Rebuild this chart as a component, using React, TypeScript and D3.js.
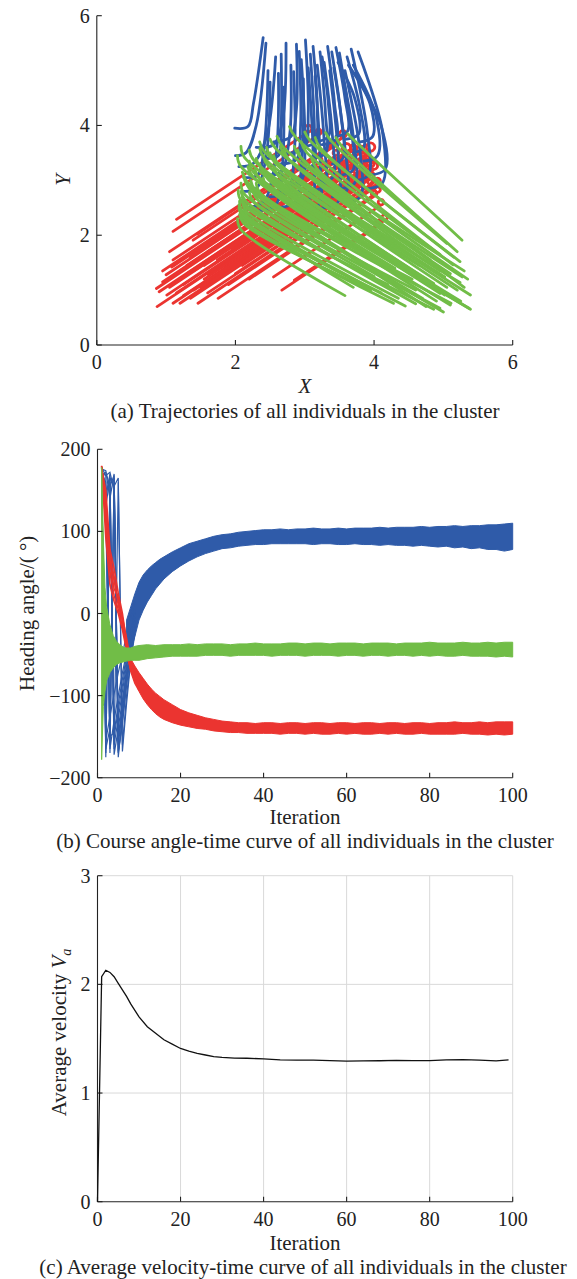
import React from "react";
import * as d3 from "d3";

type Pt = [number, number];

const FONT = "'Liberation Serif', 'Times New Roman', Times, serif";
const BLUE = "#2f5ba9";
const RED = "#eb3430";
const GREEN = "#71bd47";
const INK = "#222";

// ---------- (a) trajectories in the X–Y plane ----------
const posTicks = [0, 2, 4, 6];

// blue individuals: start, turn, climb, end
const blueTracks: Pt[][] = [
  [[1.99, 3.95], [2.18, 3.98], [2.26, 4.4], [2.40, 5.60]],
  [[2.00, 3.45], [2.15, 3.50], [2.30, 4.0], [2.44, 5.50]],
  [[2.05, 3.25], [2.25, 3.30], [2.45, 3.8], [2.58, 5.25]],
  [[2.10, 2.80], [2.30, 2.85], [2.45, 3.5], [2.50, 4.79]],
  [[2.15, 2.50], [2.40, 2.60], [2.58, 3.4], [2.62, 4.95]],
  [[2.30, 3.60], [2.55, 3.65], [2.68, 4.1], [2.73, 5.50]],
  [[2.40, 3.10], [2.65, 3.15], [2.78, 3.8], [2.80, 5.10]],
  [[2.55, 3.70], [2.80, 3.80], [2.88, 4.3], [2.88, 5.48]],
  [[2.50, 2.70], [2.75, 2.80], [2.85, 3.5], [2.84, 4.98]],
  [[2.80, 3.50], [3.00, 3.60], [3.05, 4.2], [3.01, 5.56]],
  [[2.70, 2.90], [2.95, 3.00], [3.00, 3.7], [2.95, 5.20]],
  [[2.95, 3.60], [3.15, 3.70], [3.18, 4.3], [3.12, 5.44]],
  [[2.85, 2.60], [3.10, 2.70], [3.12, 3.5], [3.05, 5.05]],
  [[3.10, 3.40], [3.30, 3.50], [3.30, 4.2], [3.22, 5.34]],
  [[3.05, 2.80], [3.28, 2.90], [3.28, 3.7], [3.18, 5.10]],
  [[3.25, 3.65], [3.45, 3.75], [3.43, 4.4], [3.33, 5.44]],
  [[3.20, 2.95], [3.40, 3.05], [3.40, 3.8], [3.28, 5.15]],
  [[3.40, 3.30], [3.55, 3.40], [3.52, 4.2], [3.39, 5.34]],
  [[3.45, 3.80], [3.62, 3.90], [3.58, 4.5], [3.45, 5.42]],
  [[3.55, 3.10], [3.70, 3.20], [3.66, 4.0], [3.50, 5.32]],
  [[3.40, 2.70], [3.60, 2.80], [3.58, 3.6], [3.42, 5.05]],
  [[3.70, 3.50], [3.85, 3.60], [3.80, 4.3], [3.61, 5.25]],
  [[3.75, 3.00], [3.92, 3.10], [3.90, 3.9], [3.67, 5.39]],
  [[3.60, 2.60], [3.80, 2.70], [3.80, 3.5], [3.58, 5.00]],
  [[3.90, 2.85], [4.12, 2.95], [4.12, 3.9], [3.77, 5.34]],
  [[3.85, 3.35], [4.05, 3.45], [4.02, 4.2], [3.70, 5.10]],
  [[2.12, 3.05], [2.32, 3.10], [2.42, 3.7], [2.47, 5.00]],
  [[2.45, 3.40], [2.62, 3.45], [2.66, 4.0], [2.66, 5.30]],
  [[2.35, 2.45], [2.58, 2.55], [2.68, 3.3], [2.70, 4.70]],
  [[2.65, 3.30], [2.88, 3.38], [2.94, 4.0], [2.92, 5.35]],
  [[2.60, 2.50], [2.85, 2.60], [2.96, 3.4], [2.98, 4.85]],
  [[2.90, 3.20], [3.12, 3.28], [3.14, 3.9], [3.08, 5.30]],
  [[2.98, 2.45], [3.20, 2.55], [3.22, 3.4], [3.15, 4.90]],
  [[3.15, 3.70], [3.34, 3.80], [3.34, 4.4], [3.25, 5.25]],
  [[3.25, 2.50], [3.48, 2.60], [3.48, 3.5], [3.36, 5.00]],
  [[3.60, 3.75], [3.78, 3.85], [3.72, 4.5], [3.48, 5.15]],
  [[3.50, 2.85], [3.72, 2.95], [3.70, 3.8], [3.55, 4.90]],
  [[3.80, 3.70], [3.98, 3.80], [3.94, 4.4], [3.63, 5.10]],
  [[3.95, 3.10], [4.16, 3.20], [4.10, 4.0], [3.72, 4.95]],
];

// red individuals: looping start, straight run to the lower left
const redStarts: Pt[] = [
  [3.05, 3.88], [3.20, 3.83], [3.40, 3.60], [3.55, 3.78], [3.60, 3.52],
  [3.70, 3.55], [3.80, 3.50], [3.75, 3.12], [3.95, 3.53], [3.90, 3.34],
  [4.00, 3.20], [3.85, 2.98], [4.05, 2.94], [3.95, 3.24], [4.10, 2.55],
  [4.07, 2.18], [4.15, 2.27], [3.50, 3.03], [3.30, 2.98], [3.40, 2.90],
  [3.65, 2.96], [3.45, 2.75], [3.25, 2.85], [3.15, 3.12], [3.00, 3.05],
  [3.80, 2.88], [3.55, 3.17], [3.95, 2.92], [3.70, 2.83], [2.95, 3.30],
  [3.65, 3.42], [3.85, 3.40], [3.90, 3.26], [3.85, 3.08], [3.95, 3.03],
  [3.80, 3.02], [3.80, 2.98], [3.50, 3.30], [3.55, 3.32], [3.60, 3.20],
  [3.65, 3.21], [3.85, 3.00], [3.80, 2.93], [4.05, 2.78], [4.00, 2.86],
  [3.80, 2.81], [4.00, 2.71], [3.20, 3.31], [3.45, 3.45], [3.40, 3.21],
];
const redEnds: Pt[] = [
  [1.15, 2.29], [1.10, 2.07], [1.39, 1.91], [1.45, 2.02], [1.08, 1.42],
  [1.00, 1.28], [0.86, 1.03], [0.87, 0.70], [0.90, 0.97], [1.01, 0.91],
  [1.10, 0.76], [1.20, 0.76], [1.46, 0.76], [1.61, 1.28], [2.55, 1.24],
  [2.67, 1.00], [2.85, 1.18], [1.74, 1.55], [1.30, 1.30], [1.25, 1.10],
  [1.55, 1.20], [1.85, 1.40], [1.95, 1.75], [1.35, 1.60], [1.70, 1.95],
  [2.10, 1.45], [1.20, 1.20], [1.60, 0.95], [2.35, 1.70], [1.05, 1.70],
  [0.95, 1.15], [1.05, 1.05], [1.15, 0.95], [1.25, 0.90], [1.35, 0.85],
  [1.40, 1.00], [1.50, 1.05], [1.30, 1.45], [1.20, 1.35], [1.40, 1.35],
  [1.55, 1.45], [1.65, 1.15], [1.80, 1.25], [1.75, 0.85], [1.90, 1.10],
  [2.00, 1.30], [2.20, 1.20], [1.10, 1.55], [0.95, 1.35], [1.60, 1.70],
];
const redLoops: number[] = [
  0.05, 0.04, 0.05, 0.05, 0.06, 0.04, 0.05, 0.05, 0.06, 0.04,
  0.05, 0.05, 0.04, 0.05, 0.04, 0.04, 0.04, 0.05, 0.04, 0.05,
  0.04, 0.04, 0.04, 0.05, 0.04, 0.05, 0.05, 0.04, 0.04, 0.04,
  0.05, 0.04, 0.05, 0.04, 0.05, 0.04, 0.05, 0.04, 0.05, 0.04,
  0.05, 0.04, 0.05, 0.04, 0.05, 0.04, 0.04, 0.05, 0.04, 0.05,
];

// green individuals: hooked start, bend, end
const greenTracks: Pt[][] = [
  [[3.62, 3.85], [3.72, 3.72], [5.27, 1.91]],
  [[3.30, 3.87], [3.38, 3.72], [5.05, 1.85]],
  [[3.00, 3.88], [3.08, 3.72], [5.24, 1.52]],
  [[2.78, 3.98], [2.86, 3.80], [5.14, 1.46]],
  [[2.60, 3.80], [2.68, 3.62], [4.81, 1.55]],
  [[2.50, 3.75], [2.58, 3.58], [5.27, 1.24]],
  [[2.35, 3.70], [2.42, 3.52], [5.02, 1.24]],
  [[2.45, 3.60], [2.52, 3.42], [5.24, 1.14]],
  [[2.20, 3.55], [2.27, 3.36], [4.86, 1.12]],
  [[2.55, 3.45], [2.62, 3.28], [5.39, 0.91]],
  [[2.08, 3.62], [2.13, 3.42], [4.95, 0.94]],
  [[2.30, 3.40], [2.37, 3.22], [5.02, 0.91]],
  [[2.40, 3.20], [2.47, 3.02], [5.39, 0.65]],
  [[2.20, 3.35], [2.26, 3.15], [5.37, 0.67]],
  [[2.03, 3.45], [2.08, 3.25], [5.10, 0.73]],
  [[2.12, 3.10], [2.18, 2.90], [5.11, 0.76]],
  [[2.08, 2.95], [2.13, 2.75], [4.95, 0.67]],
  [[2.04, 2.82], [2.09, 2.62], [4.86, 0.65]],
  [[2.06, 2.62], [2.11, 2.42], [4.45, 0.71]],
  [[2.08, 2.45], [2.13, 2.26], [4.28, 0.76]],
  [[2.03, 2.30], [2.08, 2.10], [3.58, 0.90]],
  [[2.12, 2.52], [2.18, 2.33], [3.80, 1.12]],
  [[2.25, 2.85], [2.31, 2.66], [4.60, 1.00]],
  [[2.10, 2.70], [2.16, 2.51], [4.20, 1.10]],
  [[3.45, 3.78], [3.53, 3.63], [5.20, 1.70]],
  [[2.70, 3.55], [2.77, 3.38], [4.95, 1.35]],
  [[2.30, 2.95], [2.36, 2.76], [4.70, 0.85]],
  [[2.85, 3.62], [2.92, 3.45], [5.30, 1.05]],
  [[2.40, 3.05], [2.46, 2.87], [4.40, 1.25]],
  [[2.55, 3.25], [2.62, 3.08], [4.75, 1.20]],
  [[3.15, 3.78], [3.22, 3.60], [5.15, 1.60]],
  [[2.95, 3.70], [3.02, 3.52], [4.95, 1.65]],
  [[2.90, 3.55], [2.97, 3.37], [5.30, 1.35]],
  [[2.65, 3.62], [2.72, 3.44], [5.10, 1.30]],
  [[2.50, 3.50], [2.57, 3.32], [5.20, 1.00]],
  [[2.35, 3.58], [2.42, 3.40], [5.05, 1.05]],
  [[2.18, 3.25], [2.25, 3.07], [4.90, 0.80]],
  [[2.10, 3.15], [2.17, 2.97], [4.75, 0.70]],
  [[2.35, 3.30], [2.42, 3.12], [5.25, 0.80]],
  [[2.15, 3.00], [2.22, 2.82], [5.00, 0.60]],
  [[2.08, 2.80], [2.15, 2.62], [4.60, 0.75]],
  [[2.10, 2.60], [2.17, 2.42], [4.35, 0.85]],
  [[2.05, 2.50], [2.12, 2.32], [4.10, 0.95]],
  [[2.06, 2.38], [2.13, 2.20], [3.95, 1.00]],
  [[2.22, 3.00], [2.29, 2.82], [4.55, 1.20]],
  [[2.28, 3.20], [2.35, 3.02], [4.30, 1.40]],
  [[2.40, 3.45], [2.47, 3.27], [4.65, 1.45]],
  [[3.10, 3.40], [3.17, 3.22], [5.35, 1.20]],
  [[2.05, 2.55], [2.12, 2.37], [3.70, 1.05]],
  [[2.20, 2.78], [2.27, 2.60], [4.00, 1.25]],
];

// ---------- (b) heading angle per iteration ----------
const iterTicks = [0, 20, 40, 60, 80, 100];
const angleTicks = [-200, -100, 0, 100, 200];

const bandIter = [
  7, 8, 9, 10, 11, 12, 13, 14, 15, 16,
  18, 20, 22, 24, 26, 28, 30, 32, 34, 36, 38, 40, 42, 44, 46, 48, 50,
  52, 54, 56, 58, 60, 62, 64, 66, 68, 70, 72, 74, 76, 78, 80, 82, 84,
  86, 88, 90, 92, 94, 96, 98, 100,
];
const blueUpper = [
  -8, 8, 24, 38, 47, 53, 58, 62, 66, 69,
  75, 80, 85, 88, 91, 94, 96, 97, 99, 100, 101, 102, 102, 103, 102, 103, 103,
  104, 103, 103, 104, 103, 104, 104, 104, 105, 104, 105, 105, 105, 106, 105, 106, 106,
  107, 106, 107, 107, 108, 108, 109, 110,
];
const blueLower = [
  -52, -46, -28, -8, 4, 14, 22, 30, 36, 42,
  51, 58, 64, 69, 73, 76, 79, 80, 82, 83, 84, 84, 85, 85, 85, 85, 85,
  84, 85, 85, 84, 84, 85, 84, 84, 83, 84, 83, 83, 82, 83, 82, 81, 82,
  80, 81, 79, 80, 78, 78, 76, 78,
];
const redUpper = [
  -45, -55, -64, -72, -79, -86, -92, -97, -101, -105,
  -111, -117, -121, -124, -127, -129, -131, -132, -133, -133, -134, -133, -133, -134, -133, -133, -134,
  -133, -133, -134, -133, -133, -134, -133, -133, -134, -133, -133, -134, -133, -133, -134, -133, -133,
  -132, -133, -133, -132, -133, -132, -132, -132,
];
const redLower = [
  -52, -68, -82, -95, -104, -111, -117, -122, -126, -129,
  -133, -136, -138, -140, -141, -143, -144, -145, -145, -146, -146, -146, -146, -147, -146, -146, -147,
  -146, -147, -147, -146, -147, -146, -147, -147, -146, -147, -146, -147, -147, -146, -147, -147, -147,
  -147, -146, -147, -147, -148, -147, -148, -147,
];

const greenIter = [
  1, 1.4, 1.8, 2.2, 3, 3.8, 4.6, 5.4, 6.2, 7, 8, 9, 10,
  12, 14, 16, 18, 20, 22, 24, 26, 28, 30, 32, 34, 36, 38, 40, 42, 44,
  46, 48, 50, 52, 54, 56, 58, 60, 62, 64, 66, 68, 70, 72, 74, 76, 78,
  80, 82, 84, 86, 88, 90, 92, 94, 96, 98, 100,
];
const greenUpper = [
  178, 90, 32, 8, -14, -27, -34, -38, -41, -42, -42, -40, -39,
  -38, -39, -38, -38, -38, -37, -38, -37, -37, -37, -38, -37, -37, -36, -37, -37, -37,
  -36, -36, -37, -36, -36, -37, -36, -36, -36, -37, -36, -36, -36, -37, -36, -36, -36,
  -35, -36, -36, -36, -35, -36, -36, -35, -36, -35, -35,
];
const greenLower = [
  -178, -113, -95, -82, -72, -66, -62, -60, -59, -58, -57, -57, -57,
  -55, -54, -53, -52, -52, -52, -52, -51, -51, -51, -52, -51, -51, -51, -51, -52, -51,
  -51, -51, -52, -51, -51, -51, -52, -51, -51, -52, -51, -51, -52, -51, -51, -52, -51,
  -52, -51, -52, -52, -51, -52, -52, -52, -53, -52, -53,
];

// individual headings during the first iterations (wrap-around at ±180°)
const blueEarlyIter = [1, 2, 3, 4, 5, 6, 7, 8, 9];
const blueEarly: number[][] = [
  [178, 168, -165, -130, -100, -72, -48, -22, 2],
  [172, 150, 160, -172, -140, -105, -72, -42, -15],
  [176, 174, 140, 170, -160, -118, -78, -46, -22],
  [165, -155, -125, -98, -72, -50, -25, -5, 15],
  [178, 130, 165, 155, 165, -168, -110, -58, -25],
  [170, 160, -170, 150, -175, -125, -80, -45, -18],
  [175, -170, 140, -160, -128, -95, -62, -30, -5],
  [168, 172, 155, 168, -150, -110, -66, -36, -10],
  [174, 120, -150, -145, -110, -80, -52, -24, 5],
  [160, 140, 170, -165, 160, -160, -100, -55, -20],
  [178, -175, 165, -150, -118, -88, -56, -26, 0],
  [171, 168, 172, 150, -168, -135, -88, -48, -16],
  [177, 155, -160, 165, -155, -115, -75, -40, -8],
  [169, -165, -140, 162, -170, -130, -85, -50, -20],
];
const redEarlyIter = [1, 2, 3, 4, 5, 6, 7, 8, 9, 10];
const redEarly: number[][] = [
  [179, 130, 72, 40, 15, -5, -30, -58, -72, -82],
  [178, 110, 50, 22, 5, -15, -40, -65, -80, -90],
  [176, 150, 78, 55, 25, 0, -35, -60, -76, -86],
  [180, 92, 35, 15, 0, -20, -45, -70, -85, -94],
  [177, 140, 62, 30, 20, -10, -42, -68, -82, -92],
  [179, 120, 66, 45, 10, -8, -38, -62, -78, -88],
];

// ---------- (c) average velocity ----------
const velTicks = [0, 1, 2, 3];
const velIter = [
  0, 1, 2, 3, 4, 5, 6, 7, 8, 9, 10, 12, 14, 16, 18, 20, 22, 24, 26, 28, 30,
  33, 36, 40, 44, 48, 52, 56, 60, 64, 68, 72, 76, 80, 84, 88, 92, 96, 99,
];
const velValue = [
  0, 2.07, 2.13, 2.11, 2.07, 2.01, 1.95, 1.89, 1.82, 1.76, 1.70, 1.61, 1.55,
  1.49, 1.45, 1.41, 1.385, 1.365, 1.35, 1.335, 1.328, 1.322, 1.32, 1.315,
  1.305, 1.303, 1.302, 1.298, 1.294, 1.296, 1.297, 1.3, 1.298, 1.299, 1.305,
  1.308, 1.302, 1.296, 1.306,
];

const fmt = (v: number) => (v < 0 ? "\u2212" + Math.abs(v) : String(v));

type AxesProps = {
  x: d3.ScaleLinear<number, number>;
  y: d3.ScaleLinear<number, number>;
  xTicks: number[];
  yTicks: number[];
  grid?: boolean;
};

function Axes({ x, y, xTicks, yTicks, grid }: AxesProps) {
  const [x0, x1] = x.range();
  const [y0, y1] = y.range();
  const tick = 5;
  return (
    <g fontFamily={FONT} fontSize={20} fill={INK}>
      {grid &&
        xTicks.filter((t) => t !== xTicks[0]).map((t) => (
          <line key={"gx" + t} x1={x(t)} x2={x(t)} y1={y0} y2={y1} stroke="#d9d9d9" strokeWidth={1} />
        ))}
      {grid &&
        yTicks.filter((t) => t !== yTicks[0]).map((t) => (
          <line key={"gy" + t} x1={x0} x2={x1} y1={y(t)} y2={y(t)} stroke="#d9d9d9" strokeWidth={1} />
        ))}
      <line x1={x0} x2={x1} y1={y0} y2={y0} stroke={INK} strokeWidth={1.1} />
      <line x1={x0} x2={x0} y1={y0} y2={y1} stroke={INK} strokeWidth={1.1} />
      {xTicks.map((t) => (
        <g key={"x" + t}>
          <line x1={x(t)} x2={x(t)} y1={y0} y2={y0 - tick} stroke={INK} strokeWidth={1.1} />
          <text x={x(t)} y={y0 + 24} textAnchor="middle">{fmt(t)}</text>
        </g>
      ))}
      {yTicks.map((t) => (
        <g key={"y" + t}>
          <line x1={x0} x2={x0 + tick} y1={y(t)} y2={y(t)} stroke={INK} strokeWidth={1.1} />
          <text x={x0 - 7} y={y(t)} dy="0.35em" textAnchor="end">{fmt(t)}</text>
        </g>
      ))}
    </g>
  );
}

export default function App() {
  const W = 577;
  const H = 1279;

  // (a)
  const xa = d3.scaleLinear().domain([0, 6]).range([96.8, 512.7]);
  const ya = d3.scaleLinear().domain([0, 6]).range([345, 15.7]);
  const track = d3
    .line<Pt>()
    .x((d) => xa(d[0]))
    .y((d) => ya(d[1]))
    .curve(d3.curveCatmullRom.alpha(0.5));
  const redPath = (s: Pt, e: Pt, r: number) => {
    const p = d3.path();
    const sx = xa(s[0]);
    const sy = ya(s[1]);
    const rp = xa(r) - xa(0);
    p.moveTo(sx, sy);
    p.arc(sx, sy - rp, rp, Math.PI / 2, Math.PI / 2 + 2 * Math.PI - 0.001, false);
    p.lineTo(xa(e[0]), ya(e[1]));
    return p.toString();
  };

  // (b)
  const xb = d3.scaleLinear().domain([0, 100]).range([97.5, 512.7]);
  const yb = d3.scaleLinear().domain([-200, 200]).range([777.7, 449.3]);
  const band = (iters: number[], lo: number[], hi: number[]) =>
    d3
      .area<number>()
      .x((_, i) => xb(iters[i]))
      .y0((_, i) => yb(lo[i]))
      .y1((_, i) => yb(hi[i]))(iters) || "";
  const early = (iters: number[], vals: number[]) =>
    d3
      .line<number>()
      .x((_, i) => xb(iters[i]))
      .y((d) => yb(d))(vals) || "";

  // (c)
  const yc = d3.scaleLinear().domain([0, 3]).range([1201.7, 875.7]);
  const velLine =
    d3
      .line<number>()
      .x((_, i) => xb(velIter[i]))
      .y((d) => yc(d))(velValue) || "";

  const cap = { fontFamily: FONT, fontSize: 21, fill: INK } as const;

  return (
    <svg
      width={W}
      height={H}
      viewBox={`0 0 ${W} ${H}`}
      style={{ position: "absolute", left: 0, top: 0, background: "#fff" }}
    >
      <rect x={0} y={0} width={W} height={H} fill="#fff" />

      {/* (a) trajectories */}
      <g fill="none" strokeWidth={2.8} strokeLinecap="round" strokeLinejoin="round">
        {redStarts.map((s, i) => (
          <path key={"r" + i} d={redPath(s, redEnds[i], redLoops[i])} stroke={RED} />
        ))}
        {blueTracks.map((t, i) => (
          <path key={"b" + i} d={track(t) || ""} stroke={BLUE} />
        ))}
        {greenTracks.map((t, i) => (
          <path key={"g" + i} d={track(t) || ""} stroke={GREEN} />
        ))}
      </g>
      <Axes x={xa} y={ya} xTicks={posTicks} yTicks={posTicks} />
      <text {...cap} x={305} y={393} textAnchor="middle" fontStyle="italic">X</text>
      <text {...cap} transform="translate(62.6,180) rotate(-90)" textAnchor="middle" dy="0.35em" fontStyle="italic">Y</text>
      <text {...cap} x={305} y={418} textAnchor="middle">(a) Trajectories of all individuals in the cluster</text>

      {/* (b) heading angles */}
      <g>
        <path d={band(bandIter, blueLower, blueUpper)} fill={BLUE} stroke={BLUE} strokeWidth={1} />
        {blueEarly.map((v, i) => (
          <path key={"be" + i} d={early(blueEarlyIter, v)} fill="none" stroke={BLUE} strokeWidth={1.2} />
        ))}
        <path d={band(bandIter, redLower, redUpper)} fill={RED} stroke={RED} strokeWidth={1} />
        {redEarly.map((v, i) => (
          <path key={"re" + i} d={early(redEarlyIter, v)} fill="none" stroke={RED} strokeWidth={1.6} />
        ))}
        <path d={band(greenIter, greenLower, greenUpper)} fill={GREEN} stroke={GREEN} strokeWidth={1} />
      </g>
      <Axes x={xb} y={yb} xTicks={iterTicks} yTicks={angleTicks} />
      <text {...cap} x={305} y={824} textAnchor="middle">Iteration</text>
      <text {...cap} transform="translate(26.7,613.3) rotate(-90)" textAnchor="middle" dy="0.35em">Heading angle/( °)</text>
      <text {...cap} x={305} y={848} textAnchor="middle">(b) Course angle-time curve of all individuals in the cluster</text>

      {/* (c) average velocity */}
      <Axes x={xb} y={yc} xTicks={iterTicks} yTicks={velTicks} grid />
      <path d={velLine} fill="none" stroke="#111" strokeWidth={1.3} />
      <text {...cap} x={305} y={1250} textAnchor="middle">Iteration</text>
      <text {...cap} transform="translate(59,1032.5) rotate(-90)" textAnchor="middle" dy="0.35em">
        Average velocity <tspan fontStyle="italic">V</tspan>
        <tspan fontStyle="italic" fontSize={14} dy={5}>a</tspan>
      </text>
      <text {...cap} x={303} y={1274} textAnchor="middle">(c) Average velocity-time curve of all individuals in the cluster</text>
    </svg>
  );
}
